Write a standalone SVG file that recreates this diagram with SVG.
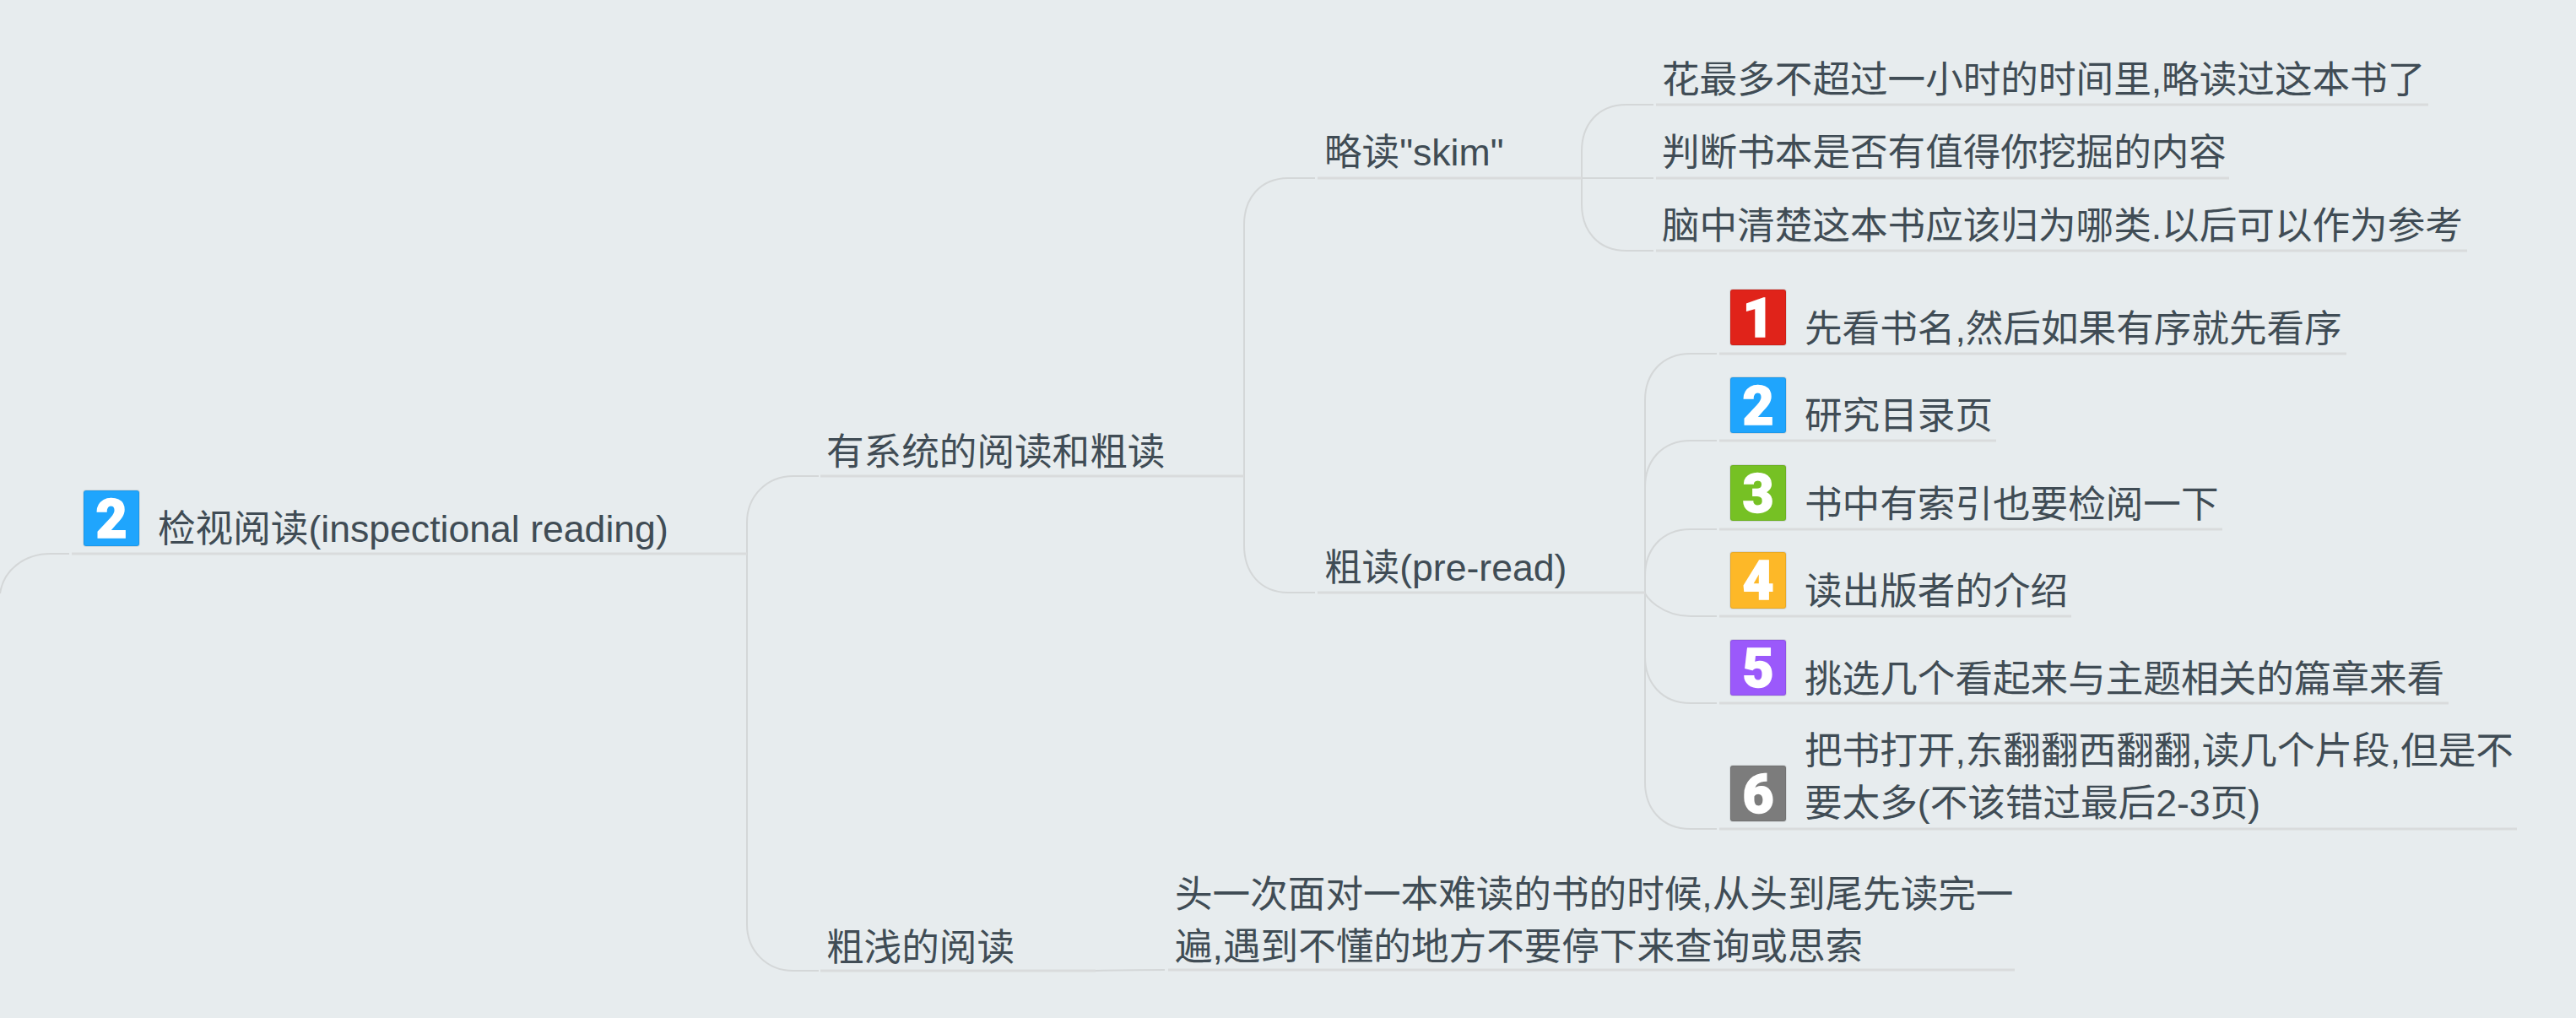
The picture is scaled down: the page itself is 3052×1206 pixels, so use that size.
<svg xmlns="http://www.w3.org/2000/svg" width="3052" height="1206" viewBox="0 0 3052 1206">
<style>
text{font-family:"Liberation Sans","Noto Sans CJK SC",sans-serif}
.t{font-size:44.6px;fill:#404c55}
.c{fill:none;stroke:#d4d7d8;stroke-width:2}
.u{fill:none;stroke:#d9dbdc;stroke-width:3}
.i{stroke:#000;stroke-opacity:.08;stroke-width:2}
.n{font-family:Roboto,"Liberation Sans",sans-serif;font-size:64px;font-weight:900;fill:#fff;stroke:#fff;stroke-width:1.5;text-anchor:middle}
</style>
<rect width="3052" height="1206" fill="#e7ecee"/>
<g id="connectors">
<path class="c" d="M0 703C4 676 28 656 60 656H82"/>
<path class="c" d="M885 656V619C885 588 908 564 940 564H970"/>
<path class="c" d="M885 656V1095C885 1126 908 1150 940 1150H970"/>
<path class="c" d="M1474 565V266C1474 236 1492 211 1527 211H1558"/>
<path class="c" d="M1474 565V646C1474 677 1492 702 1527 702H1558"/>
<path class="c" d="M1298 1150C1330 1149 1360 1149 1380 1149"/>
<path class="c" d="M1874 211V179C1874 149 1892 124 1927 124H1959"/>
<path class="c" d="M1874 211H1959"/>
<path class="c" d="M1874 211V242C1874 272 1892 297 1927 297H1959"/>
<path class="c" d="M1949 702V474C1949 444 1968 419 2003 419H2034"/>
<path class="c" d="M1949 702V577C1949 547 1968 522 2003 522H2034"/>
<path class="c" d="M1949 702V682C1949 652 1968 627 2003 627H2034"/>
<path class="c" d="M1949 702C1949 706 1968 730 2003 730H2034"/>
<path class="c" d="M1949 702V778C1949 808 1968 833 2003 833H2034"/>
<path class="c" d="M1949 702V927C1949 957 1968 982 2003 982H2034"/>
</g>
<g id="root"><path class="u" d="M85 656H885"/><rect class="i" x="99" y="581" width="66" height="66" rx="3" fill="#1fa5fd"/><text class="n" x="132" y="637">2</text><text class="t" x="187" y="642">检视阅读(inspectional reading)</text></g>
<g id="n-system"><path class="u" d="M972 564H1474"/><text class="t" x="979" y="551">有系统的阅读和粗读</text></g>
<g id="n-shallow"><path class="u" d="M972 1150H1298"/><text class="t" x="979" y="1138">粗浅的阅读</text></g>
<g id="n-shallow-text"><path class="u" d="M1384 1149H2387"/><text class="t" x="1392" y="1075">头一次面对一本难读的书的时候,从头到尾先读完一</text><text class="t" x="1392" y="1137">遍,遇到不懂的地方不要停下来查询或思索</text></g>
<g id="n-skim"><path class="u" d="M1561 211H1874"/><text class="t" x="1569" y="196">略读"skim"</text></g>
<g id="n-preread"><path class="u" d="M1561 702H1949"/><text class="t" x="1569" y="688">粗读(pre-read)</text></g>
<g id="s1"><path class="u" d="M1962 124H2877"/><text class="t" x="1969" y="110">花最多不超过一小时的时间里,略读过这本书了</text></g>
<g id="s2"><path class="u" d="M1962 211H2641"/><text class="t" x="1969" y="196">判断书本是否有值得你挖掘的内容</text></g>
<g id="s3"><path class="u" d="M1962 297H2923"/><text class="t" x="1969" y="283">脑中清楚这本书应该归为哪类.以后可以作为参考</text></g>
<g id="p1"><path class="u" d="M2037 419H2780"/><rect class="i" x="2050" y="343" width="66" height="66" rx="3" fill="#e0231a"/><text class="n" x="2083" y="399">1</text><text class="t" x="2138" y="405">先看书名,然后如果有序就先看序</text></g>
<g id="p2"><path class="u" d="M2037 522H2365"/><rect class="i" x="2050" y="447" width="66" height="66" rx="3" fill="#1fa5fd"/><text class="n" x="2083" y="503">2</text><text class="t" x="2138" y="508">研究目录页</text></g>
<g id="p3"><path class="u" d="M2037 627H2633"/><rect class="i" x="2050" y="551" width="66" height="66" rx="3" fill="#76c124"/><text class="n" x="2083" y="607">3</text><text class="t" x="2138" y="613">书中有索引也要检阅一下</text></g>
<g id="p4"><path class="u" d="M2037 730H2454"/><rect class="i" x="2050" y="654" width="66" height="67" rx="3" fill="#fdb828"/><text class="n" x="2083" y="710">4</text><text class="t" x="2138" y="716">读出版者的介绍</text></g>
<g id="p5"><path class="u" d="M2037 833H2901"/><rect class="i" x="2050" y="758" width="66" height="66" rx="3" fill="#9b59fb"/><text class="n" x="2083" y="814">5</text><text class="t" x="2138" y="820">挑选几个看起来与主题相关的篇章来看</text></g>
<g id="p6"><path class="u" d="M2037 982H2982"/><rect class="i" x="2050" y="907" width="66" height="66" rx="3" fill="#7c7c7c"/><text class="n" x="2083" y="963">6</text><text class="t" x="2138" y="905">把书打开,东翻翻西翻翻,读几个片段,但是不</text><text class="t" x="2138" y="967">要太多(不该错过最后2-3页)</text></g>
</svg>
